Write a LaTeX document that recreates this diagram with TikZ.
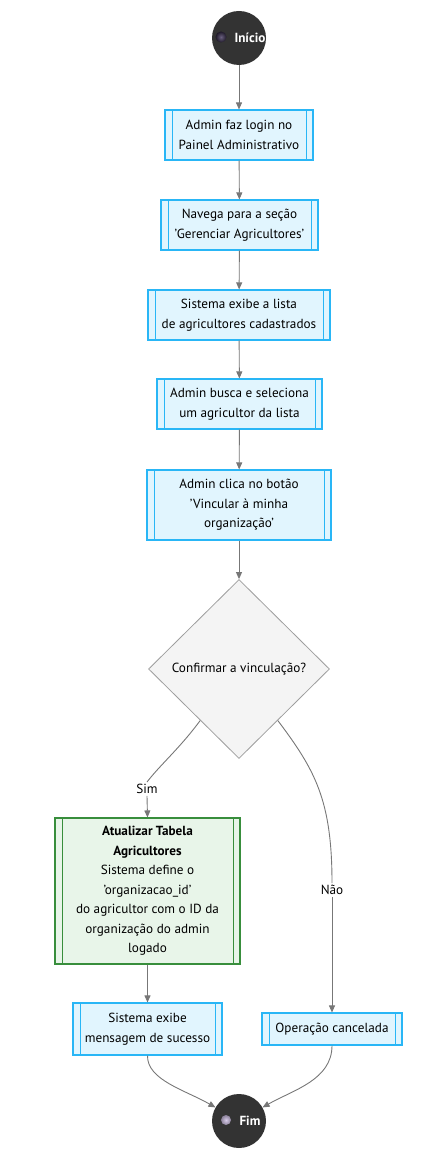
\documentclass[tikz,border=0pt]{standalone}
\usepackage{fontspec}
\setmainfont{PT Sans}
\usetikzlibrary{arrows.meta,shapes.geometric}
\definecolor{bfill}{HTML}{E1F5FE}
\definecolor{bline}{HTML}{29B6F6}
\definecolor{gfill}{HTML}{E8F5E9}
\definecolor{gline}{HTML}{388E3C}
\definecolor{dfill}{HTML}{F4F4F4}
\definecolor{dline}{HTML}{9E9E9E}
\definecolor{eline}{HTML}{777777}
\definecolor{term}{HTML}{333333}
\definecolor{icoAin}{HTML}{6A6080}
\definecolor{icoAout}{HTML}{1E1828}
\definecolor{icoBin}{HTML}{D8CCEA}
\definecolor{icoBout}{HTML}{8A8098}
\tikzset{
  sub/.style={draw=#1, line width=1.1pt, inner sep=0pt, align=center,
    font=\fontsize{13.2}{19.5}\selectfont, text=black,
    path picture={\draw[#1, line width=0.9pt]
      ([xshift=7pt]path picture bounding box.north west) -- ([xshift=7pt]path picture bounding box.south west)
      ([xshift=-7pt]path picture bounding box.north east) -- ([xshift=-7pt]path picture bounding box.south east);}},
  bbox/.style={sub=bline, fill=bfill},
  gbox/.style={sub=gline, fill=gfill},
  termnode/.style={circle, fill=term, minimum size=54pt, inner sep=0pt},
  dec/.style={diamond, draw=dline, fill=dfill, line width=0.8pt, minimum width=181pt, minimum height=179pt, inner sep=0pt, font=\fontsize{13.2}{15}\selectfont},
  arr/.style={draw=eline, line width=0.9pt, -{Triangle[length=7pt,width=6pt]}},
  ln/.style={draw=eline, line width=0.9pt},
  elabel/.style={fill=white, inner sep=2pt, font=\fontsize{13.2}{15}\selectfont}
}
\begin{document}
\begin{tikzpicture}[x=1pt,y=-1pt]
\useasboundingbox (0,0) rectangle (420,1155);
\node[termnode] (start) at (239,38) {};
\shade[inner color=icoAin, outer color=icoAout] (221,37) circle (5.5pt);
\node[text=white, font=\bfseries\fontsize{13.2}{15}\selectfont, anchor=west] (starttxt) at (231,38) {Início};

\node[bbox, minimum width=148pt, minimum height=50pt] (b1) at (239,135) {Admin faz login no\\Painel Administrativo};
\node[bbox, minimum width=157pt, minimum height=50pt] (b2) at (239.5,225) {Navega para a seção\\'Gerenciar Agricultores'};
\node[bbox, minimum width=182pt, minimum height=50pt] (b3) at (239,315) {Sistema exibe a lista\\de agricultores cadastrados};
\node[bbox, minimum width=165pt, minimum height=50pt] (b4) at (239.5,404) {Admin busca e seleciona\\um agricultor da lista};
\node[bbox, minimum width=184pt, minimum height=70pt] (b5) at (239,505) {Admin clica no botão\\'Vincular à minha\\organização'};
\node[dec] (d) at (239,669) {Confirmar a vinculação?};

\node[gbox, minimum width=185pt, minimum height=146pt] (g) at (147.5,891) {\textbf{Atualizar Tabela}\\\textbf{Agricultores}\\Sistema define o\\'organizacao\_id'\\do agricultor com o ID da\\organização do admin\\logado};
\node[bbox, minimum width=149pt, minimum height=52pt] (s) at (147.5,1029) {Sistema exibe\\mensagem de sucesso};
\node[bbox, minimum width=140pt, minimum height=32pt] (c) at (332,1029) {Operação cancelada};

\node[termnode] (fim) at (239,1121) {};
\shade[inner color=icoBin, outer color=icoBout] (226,1120) circle (5pt);
\node[text=white, font=\bfseries\fontsize{13.2}{15}\selectfont, anchor=west] (fimtxt) at (236,1121) {Fim};

\draw[arr] (start) -- (b1);
\draw[arr] (b1) -- (b2);
\draw[arr] (b2) -- (b3);
\draw[arr] (b3) -- (b4);
\draw[arr] (b4) -- (b5);
\draw[arr] (b5) -- (d);

\node[elabel] (sim) at (147,789) {Sim};
\draw[ln] (d.233) .. controls (180,748) and (160,765) .. (sim.north);
\draw[arr] (sim.south) -- (g.north);

\node[elabel] (nao) at (332,890) {Não};
\draw[ln] (d.307) .. controls (315,770) and (332,800) .. (nao.north);
\draw[arr] (nao.south) -- (c.north);

\draw[arr] (g) -- (s);
\draw[arr] (s.south) .. controls (147,1080) and (185,1090) .. (fim.150);
\draw[arr] (c.south) .. controls (332,1080) and (293,1090) .. (fim.30);
\end{tikzpicture}
\end{document}
